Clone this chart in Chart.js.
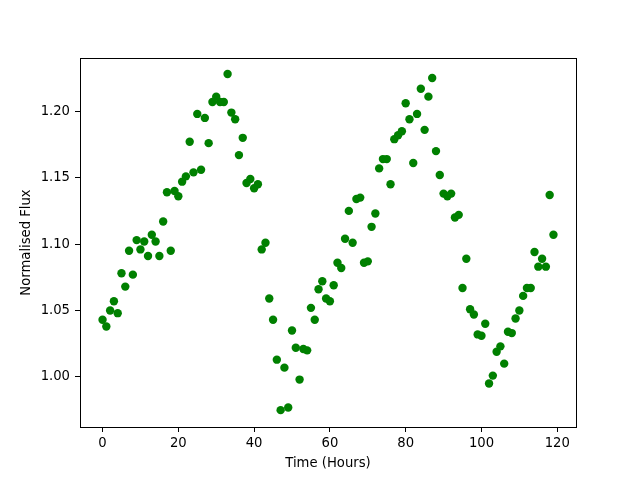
<!DOCTYPE html>
<html lang="en">
<head>
    <meta charset="UTF-8">
    <title>Normalised Flux</title>
    <script src="https://cdn.jsdelivr.net/npm/chart.js"></script>
    <style>
        html, body { margin: 0; padding: 0; background: #fff; }
        canvas { display: block; }
    </style>
</head>
<body>
    <canvas id="fluxChart" width="640" height="480"></canvas>

    <script>
        // hours 0..119, one reading per hour
        const hours = Array.from({ length: 120 }, (_, i) => i);
        const flux = [
            1.043, 1.038, 1.050, 1.057, 1.048, 1.078, 1.068, 1.095, 1.077, 1.103,
            1.096, 1.102, 1.091, 1.107, 1.102, 1.091, 1.117, 1.139, 1.095, 1.140,
            1.136, 1.147, 1.151, 1.177, 1.154, 1.198, 1.156, 1.195, 1.176, 1.207,
            1.211, 1.207, 1.207, 1.228, 1.199, 1.194, 1.167, 1.180, 1.146, 1.149,
            1.142, 1.145, 1.096, 1.101, 1.059, 1.043, 1.013, 0.975, 1.007, 0.977,
            1.035, 1.022, 0.998, 1.021, 1.020, 1.052, 1.043, 1.066, 1.072, 1.059,
            1.057, 1.069, 1.086, 1.082, 1.104, 1.125, 1.101, 1.134, 1.135, 1.086,
            1.087, 1.113, 1.123, 1.157, 1.164, 1.164, 1.145, 1.179, 1.182, 1.185,
            1.206, 1.194, 1.161, 1.198, 1.217, 1.186, 1.211, 1.225, 1.170, 1.152,
            1.138, 1.136, 1.138, 1.120, 1.122, 1.067, 1.089, 1.051, 1.047, 1.032,
            1.031, 1.040, 0.995, 1.001, 1.019, 1.023, 1.010, 1.034, 1.033, 1.044,
            1.050, 1.061, 1.067, 1.067, 1.094, 1.083, 1.089, 1.083, 1.137, 1.107
        ];
        const xTicks = [0, 20, 40, 60, 80, 100, 120];
        const yTicks = [1.00, 1.05, 1.10, 1.15, 1.20];

        const FONT = { family: "'DejaVu Sans', sans-serif", size: 13.2 };

        // box round the plot area, like matplotlib spines
        const frame = {
            id: 'frame',
            afterDraw(chart) {
                const a = chart.chartArea, c = chart.ctx;
                c.save();
                c.strokeStyle = '#000';
                c.lineWidth = 1;
                c.strokeRect(Math.round(a.left) + 0.5, Math.round(a.top) + 0.5,
                             Math.round(a.right - a.left), Math.round(a.bottom - a.top));
                c.restore();
            }
        };

        new Chart(document.getElementById('fluxChart'), {
            type: 'scatter',
            data: {
                datasets: [{
                    data: hours.map((h, i) => ({ x: h, y: flux[i] })),
                    backgroundColor: '#008000',
                    borderColor: '#008000',
                    borderWidth: 0,
                    pointRadius: 4.2,
                    pointHoverRadius: 4.2
                }]
            },
            options: {
                responsive: false,
                animation: false,
                layout: { padding: { left: 0, top: 58, right: 64, bottom: 0 } },
                plugins: { legend: { display: false }, tooltip: { enabled: false } },
                scales: {
                    x: {
                        type: 'linear',
                        min: -5.95,
                        max: 124.95,
                        afterBuildTicks: s => { s.ticks = xTicks.map(v => ({ value: v })); },
                        afterFit: s => { s.height = 53; },
                        grid: { display: true, drawOnChartArea: false, drawTicks: true, tickLength: 5, tickColor: '#000' },
                        border: { display: true, color: '#000' },
                        ticks: { color: '#000', font: FONT, padding: 4, maxRotation: 0 },
                        title: { display: true, text: 'Time (Hours)', color: '#000', font: FONT, padding: { top: 0, bottom: 9 } }
                    },
                    y: {
                        min: 0.9623,
                        max: 1.2401,
                        afterBuildTicks: s => { s.ticks = yTicks.map(v => ({ value: v })); },
                        afterFit: s => { s.width = 80; },
                        grid: { display: true, drawOnChartArea: false, drawTicks: true, tickLength: 5, tickColor: '#000' },
                        border: { display: true, color: '#000' },
                        ticks: { color: '#000', font: FONT, padding: 5, callback: v => v.toFixed(2) },
                        title: { display: true, text: 'Normalised Flux', color: '#000', font: FONT, padding: { top: 19, bottom: 0 } }
                    }
                }
            },
            plugins: [frame]
        });
    </script>
</body>
</html>
